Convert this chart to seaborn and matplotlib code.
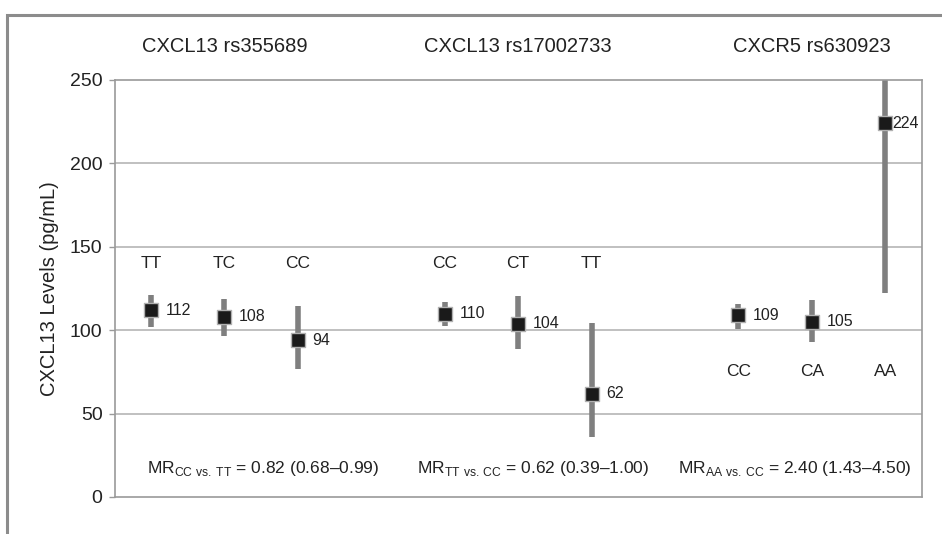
import numpy as np
import pandas as pd
import matplotlib
matplotlib.use("Agg")
import matplotlib.pyplot as plt
import seaborn as sns
from matplotlib.patches import Rectangle

# Data
groups = ["CXCL13 rs355689", "CXCL13 rs17002733", "CXCR5 rs630923"]
genotypes = [["TT", "TC", "CC"], ["CC", "CT", "TT"], ["CC", "CA", "AA"]]
medians = [[112, 108, 94], [110, 104, 62], [109, 105, 224]]
ci_low = [[102, 96.5, 77], [102.5, 89, 36], [100.7, 92.7, 122]]
ci_high = [[121, 118.5, 114.5], [117, 120.7, 104.5], [116, 118.3, 262]]
mr_texts = [
    r"MR$_{\mathregular{CC\ vs.\!\ TT}}$ = 0.82 (0.68–0.99)",
    r"MR$_{\mathregular{TT\ vs.\!\ CC}}$ = 0.62 (0.39–1.00)",
    r"MR$_{\mathregular{AA\ vs.\!\ CC}}$ = 2.40 (1.43–4.50)",
]
yticks = [0, 50, 100, 150, 200, 250]

sns.set_theme(style="white")
plt.rcParams["font.family"] = ["Liberation Sans", "DejaVu Sans"]
plt.rcParams["mathtext.fontset"] = "custom"
plt.rcParams["mathtext.rm"] = "Liberation Sans"

records = []
for g, grp in enumerate(groups):
    for i, gt in enumerate(genotypes[g]):
        records.append({"group": grp, "genotype": gt, "pos": g * 4 + i,
                        "median": medians[g][i], "lo": ci_low[g][i], "hi": ci_high[g][i]})
df = pd.DataFrame(records)

fig = plt.figure(figsize=(9.42, 5.34), dpi=100)
ax = fig.add_axes([0.1221, 0.0693, 0.8567, 0.7809])

TXT = "#222222"
# confidence intervals
ax.vlines(df["pos"], df["lo"], df["hi"], color="#7f7f7f", linewidth=4, zorder=2)
sns.scatterplot(data=df, x="pos", y="median", marker="s", s=115, color="#1a1a1a",
                edgecolor="#b0b0b0", linewidth=1, zorder=3, ax=ax, legend=False)

for _, r in df.iterrows():
    off = 0.09 if r["median"] > 200 else 0.2
    ax.text(r["pos"] + off, r["median"], str(r["median"]), ha="left", va="center",
            fontsize=11.5, color=TXT)

for g in range(3):
    y_lab = 140 if g < 2 else 75
    for i, gt in enumerate(genotypes[g]):
        ax.text(g * 4 + i, y_lab, gt, ha="center", va="center", fontsize=12.5, color=TXT)
    ax.text(g * 4 + 1, 270, groups[g], ha="center", va="center", fontsize=14.5, color=TXT)

mr_x = [1.53, 5.2, 8.77]
for g in range(3):
    ax.text(mr_x[g], 17, mr_texts[g], ha="center", va="center", fontsize=12.5, color=TXT)

ax.set_xlim(-0.49, 10.5)
ax.set_ylim(0, 250)
ax.set_yticks(yticks)
ax.set_xticks([])
ax.set_xlabel("")
ax.set_ylabel("CXCL13 Levels (pg/mL)", fontsize=14.5, color=TXT, labelpad=8)
ax.tick_params(axis="y", labelsize=14, colors=TXT, length=4, width=1, color="#9a9a9a",
               pad=5, left=True)
for v in [50, 100, 150, 200]:
    ax.axhline(v, color="#b5b5b5", linewidth=1.2, zorder=1)
for sp in ax.spines.values():
    sp.set_color("#9a9a9a")
    sp.set_linewidth(1.2)

# outer panel frame (cropped on right and bottom)
fig.patches.append(Rectangle((7 / 942, -0.1), 1.2, (534 - 15) / 534 + 0.1,
                             transform=fig.transFigure, fill=False,
                             edgecolor="#8c8c8c", linewidth=2.2))

fig.savefig("out.png", dpi=100)
